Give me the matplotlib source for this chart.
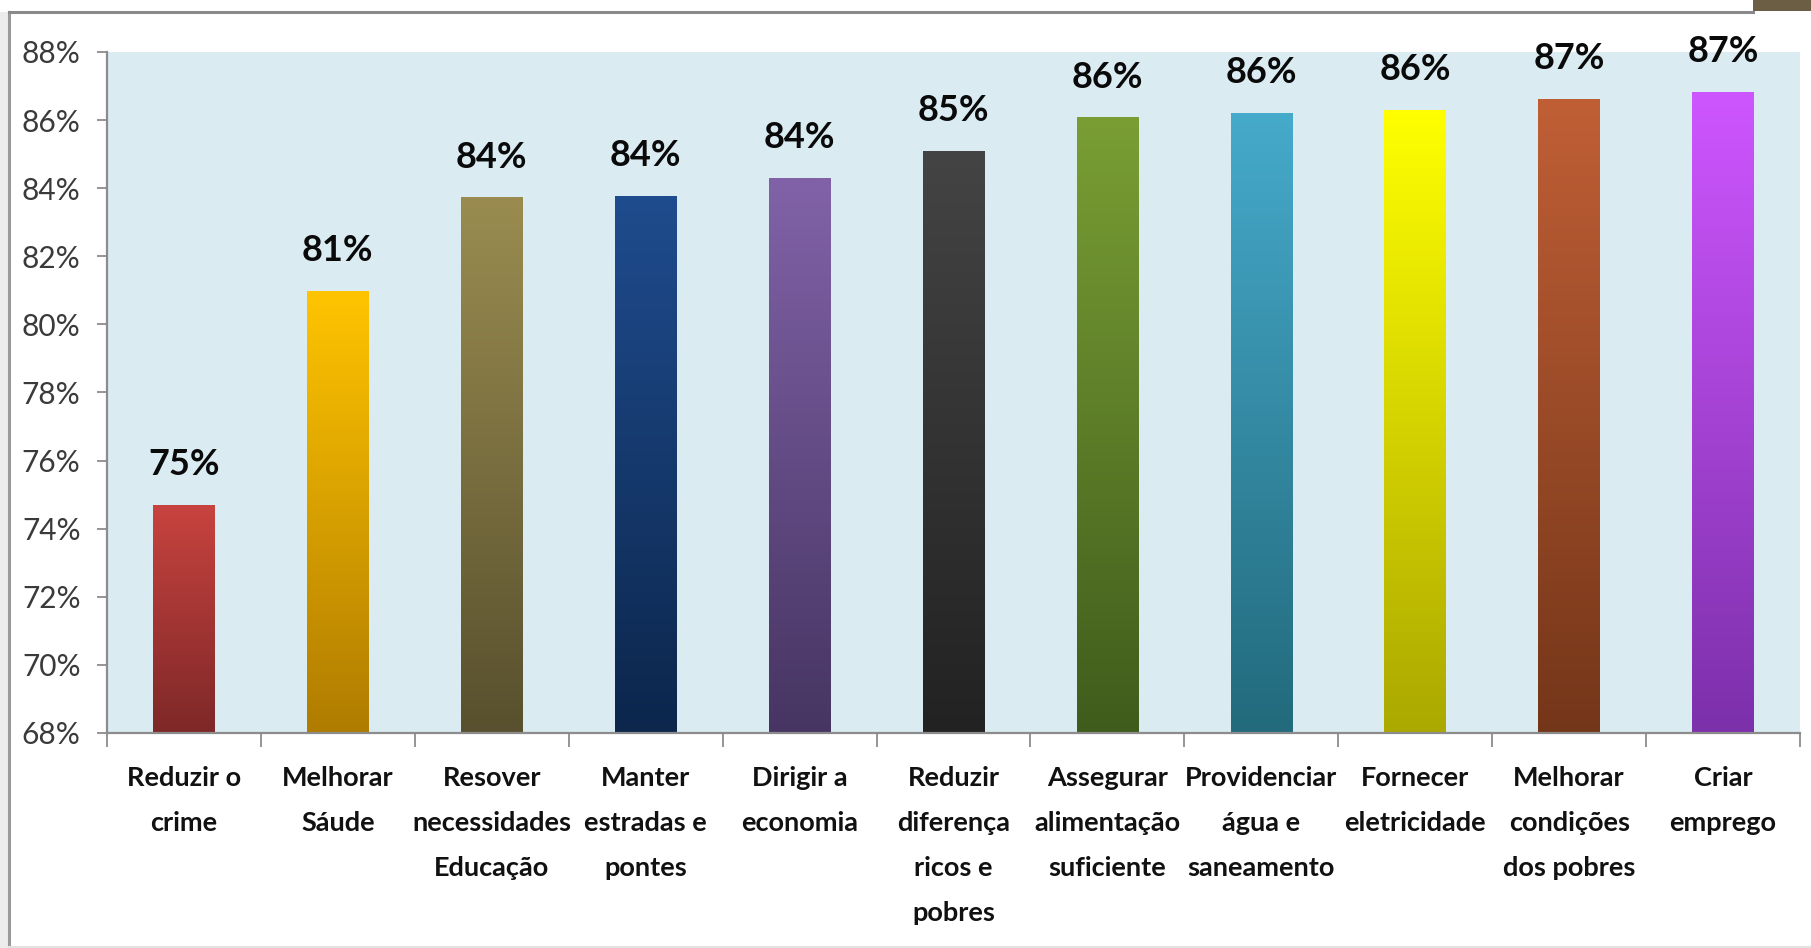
import numpy as np
import matplotlib
matplotlib.use("Agg")
import matplotlib.pyplot as plt
from matplotlib import font_manager
from matplotlib.colors import LinearSegmentedColormap
from matplotlib.patches import Rectangle
from matplotlib.lines import Line2D

# ---------------- data ----------------
categories = [
    "Reduzir o\ncrime",
    "Melhorar\nSáude",
    "Resover\nnecessidades\nEducação",
    "Manter\nestradas e\npontes",
    "Dirigir a\neconomia",
    "Reduzir\ndiferença\nricos e\npobres",
    "Assegurar\nalimentação\nsuficiente",
    "Providenciar\nágua e\nsaneamento",
    "Fornecer\neletricidade",
    "Melhorar\ncondições\ndos pobres",
    "Criar\nemprego",
]
values = [74.70, 80.98, 83.73, 83.77, 84.29, 85.10, 86.08, 86.20, 86.29, 86.62, 86.83]
value_labels = ["75%", "81%", "84%", "84%", "84%", "85%", "86%", "86%", "86%", "87%", "87%"]
y_ticks = [68, 70, 72, 74, 76, 78, 80, 82, 84, 86, 88]
y_tick_labels = ["68%", "70%", "72%", "74%", "76%", "78%", "80%", "82%", "84%", "86%", "88%"]

# ---------------- styles ----------------
top_colors = ["#C8433F", "#FFC400", "#9A8C50", "#1F4C8E", "#8162A8", "#444444",
              "#7A9E34", "#46AACB", "#FFFF00", "#C05F36", "#CE56FF"]
bottom_colors = ["#7E2828", "#B07C00", "#58502E", "#0C264C", "#463562", "#222222",
                 "#405C1C", "#226A7C", "#ABA800", "#743619", "#7C30AA"]
bg_color = "#DAEBF2"
axis_gray = "#8C8C8C"

available = {f.name for f in font_manager.fontManager.ttflist}
narrow = "Liberation Sans Narrow" if "Liberation Sans Narrow" in available else None
cat_font = "Lato" if "Lato" in available else "DejaVu Sans"

W, H, DPI = 1811, 948, 100
fig = plt.figure(figsize=(W / DPI, H / DPI), dpi=DPI)
fig.patch.set_facecolor("white")

# axes placement (pixels -> fractions)
x0, x1, yb, yt = 107, 1800, 733, 52
ax = fig.add_axes([x0 / W, 1 - yb / H, (x1 - x0) / W, (yb - yt) / H])
ax.set_facecolor(bg_color)

x = np.arange(len(categories))
bars = ax.bar(x, values, width=0.40, bottom=0, color="none", zorder=2)

# gradient fill for each bar
grad = np.linspace(0, 1, 256).reshape(-1, 1)
for b, v, tc, bc in zip(bars, values, top_colors, bottom_colors):
    cmap = LinearSegmentedColormap.from_list("g", [bc, tc])
    bx = b.get_x()
    im = ax.imshow(grad, cmap=cmap, origin="lower", aspect="auto",
                   extent=(bx, bx + b.get_width(), 68, v), zorder=2,
                   interpolation="bilinear")
    im.set_clip_path(b)
ax.set_xlim(-0.5, len(categories) - 0.5)
ax.set_ylim(68, 88)

# value labels
vfont = dict(family=narrow, size=29.5, weight="bold") if narrow else dict(family=cat_font, size=26, weight="bold")
for xi, v, lab in zip(x, values, value_labels):
    ax.annotate(lab, (xi, v), xytext=(0, 21.5), textcoords="offset points",
                ha="center", va="baseline", color="#0A0A0A", zorder=3, **vfont)

# y axis
ax.set_yticks(y_ticks)
tfont = dict(family=narrow, size=22.7) if narrow else dict(family=cat_font, size=21.5)
ax.set_yticklabels(y_tick_labels, color="#3A3A3A", **tfont)
ax.tick_params(axis="y", length=7, width=1.3, color=axis_gray, pad=12, direction="out")

# x axis: boundary ticks (minor), labels at centres
ax.set_xticks(x)
ax.set_xticklabels(categories, family=cat_font, weight="bold", size=19.5,
                   color="#111111", linespacing=2.05, va="top")
ax.tick_params(axis="x", which="major", length=0, pad=24)
ax.set_xticks(np.arange(-0.5, len(categories), 1.0), minor=True)
ax.tick_params(axis="x", which="minor", length=10, width=1.3, color=axis_gray)

for s in ("top", "right"):
    ax.spines[s].set_visible(False)
for s in ("left", "bottom"):
    ax.spines[s].set_color(axis_gray)
    ax.spines[s].set_linewidth(1.6)

# ---------------- frame decorations ----------------
def px(xp, yp):
    return xp / W, 1 - yp / H

# light gray strip on left
fig.patches.append(Rectangle(px(0, H), 9 / W, 1 - 12 / H, transform=fig.transFigure,
                             facecolor="#ECECEC", edgecolor="none", zorder=0))
# left and top border lines
fig.add_artist(Line2D([9 / W, 9 / W], [1 - 12 / H, 0], transform=fig.transFigure,
                      color="#9A9A9A", lw=2.2))
fig.add_artist(Line2D([9 / W, 1753 / W], [1 - 12 / H, 1 - 12 / H], transform=fig.transFigure,
                      color="#8A8A8A", lw=2.2))
# bottom faint line
fig.add_artist(Line2D([9 / W, 1], [1 / H, 1 / H], transform=fig.transFigure,
                      color="#E2E2E2", lw=1.5))
# brown tab at top-right
fig.patches.append(Rectangle(px(1753, 11), (W - 1753) / W, 11 / H, transform=fig.transFigure,
                             facecolor="#6B5E45", edgecolor="none", zorder=1))

fig.savefig("out.png", dpi=DPI, facecolor=fig.get_facecolor())
